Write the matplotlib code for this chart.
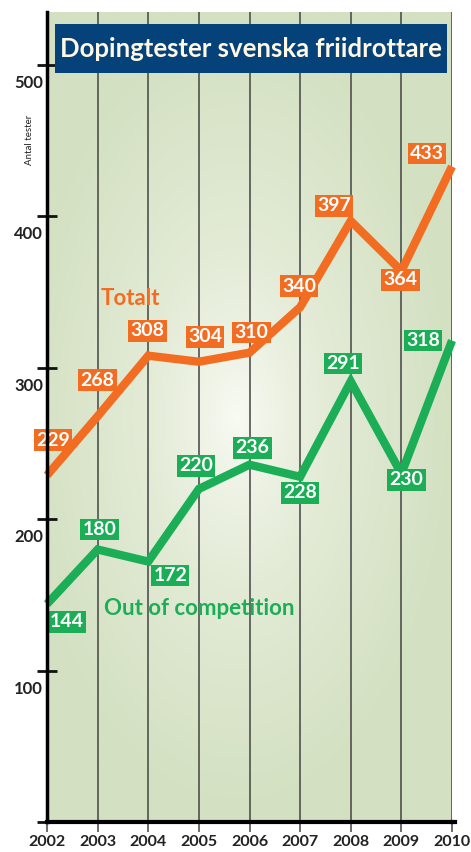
import numpy as np
import matplotlib.pyplot as plt
from matplotlib.patches import Rectangle
from matplotlib.colors import LinearSegmentedColormap

# data
years = [2002, 2003, 2004, 2005, 2006, 2007, 2008, 2009, 2010]
totalt = [229, 268, 308, 304, 310, 340, 397, 364, 433]
out_of_comp = [144, 180, 172, 220, 236, 228, 291, 230, 318]
yticks = [100, 200, 300, 400, 500]

# label offsets in pixels (dx, dy up)
tot_off = [(6, 35), (0, 36), (-1, 25), (6, 25), (2, 20), (-1, 21), (-17, 15), (-1, -9), (-25, 13)]
ooc_off = [(20, -18), (2, 20), (22, -14), (-3, 23), (3, 17), (0, -16), (-8, 18), (5, -6), (-29, 0)]

orange = '#F26C22'
green = '#1BAE57'
navy = '#05427A'

W, H = 471, 852
fig = plt.figure(figsize=(W / 100, H / 100), dpi=100)
fig.patch.set_facecolor('white')
ax = fig.add_axes([47 / W, (H - 822) / H, (452 - 47) / W, (822 - 12) / H])
ax.set_xlim(2002, 2010)
ax.set_ylim(0, 535)

# radial background
nx, ny = 300, 600
gx, gy = np.meshgrid(np.linspace(0, 1, nx), np.linspace(0, 1, ny))
d = np.sqrt(((gx - 0.47) / 0.55) ** 2 + ((gy - 0.50) / 0.50) ** 2)
t = np.clip(d, 0, 1) ** 0.8
cmap = LinearSegmentedColormap.from_list('bg', ['#F9FBF4', '#E3EBD6', '#D3E0C1'])
ax.imshow(t, cmap=cmap, extent=[2002, 2010, 0, 535], origin='lower',
          aspect='auto', zorder=0, vmin=0, vmax=1)

# grid lines
for yr in years[1:]:
    ax.axvline(yr, color='#444444', lw=1.1, zorder=1)

for s in ['top', 'right']:
    ax.spines[s].set_visible(False)
ax.spines['left'].set_linewidth(2.5)
ax.spines['bottom'].set_linewidth(3)
ax.spines['left'].set_zorder(5)
ax.spines['bottom'].set_zorder(5)
ax.plot([1, 1.008], [0, 0], transform=ax.transAxes, color='black', lw=3,
        clip_on=False, zorder=5)

ax.set_yticks([0] + yticks)
ax.set_yticklabels([])
ax.tick_params(axis='y', direction='inout', length=15, width=2, color='#111111')
ax.set_xticks(years)
ax.set_xticklabels([str(y) for y in years], fontsize=11.5, fontweight='bold',
                   fontfamily='Lato', color='#222222')
ax.tick_params(axis='x', direction='out', length=7.5, width=1.1, color='#444444', pad=1.5)

for v in yticks:
    ax.annotate(str(v), xy=(0, v), xycoords=('axes fraction', 'data'),
                xytext=(-3, -13), textcoords='offset points', ha='right', va='center',
                fontsize=12, fontweight='bold', fontfamily='Lato', color='#222222')

ax.plot(years, totalt, color=orange, lw=6, solid_joinstyle='miter',
        solid_capstyle='butt', zorder=3, clip_on=False)
ax.plot(years, out_of_comp, color=green, lw=6, solid_joinstyle='miter',
        solid_capstyle='butt', zorder=3, clip_on=False)

def labels(vals, offs, col):
    for yr, v, (dx, dy) in zip(years, vals, offs):
        ax.annotate(str(v), xy=(yr, v), xytext=(dx * 0.72, dy * 0.72),
                    textcoords='offset points', ha='center', va='center',
                    fontsize=14, fontweight='bold', fontfamily='Lato', color='white',
                    bbox=dict(boxstyle='square,pad=0.12', fc=col, ec='none'),
                    zorder=4, annotation_clip=False)

labels(totalt, tot_off, orange)
labels(out_of_comp, ooc_off, green)

ax.text(2003.64, 346, 'Totalt', color=orange, fontsize=16, fontweight='bold',
        fontfamily='Lato', ha='center', va='center', zorder=4)
ax.text(2005.0, 141, 'Out of competition', color=green, fontsize=16, fontweight='bold',
        fontfamily='Lato', ha='center', va='center', zorder=4)

fig.text(30 / W, 1 - 140 / H, 'Antal tester', rotation=90, fontsize=7,
         fontfamily='Lato', ha='center', va='center', color='#222222')

# title box
fig.patches.append(Rectangle((55 / W, 1 - 73 / H), (447 - 55) / W, 49 / H,
                             transform=fig.transFigure, fc=navy, ec='none', zorder=6))
fig.text(251 / W, 1 - 49 / H, 'Dopingtester svenska friidrottare', fontsize=18.5,
         fontweight='bold', fontfamily='Lato', color='#FFF8E4', ha='center',
         va='center', zorder=7)

fig.savefig('out.png', dpi=100)
